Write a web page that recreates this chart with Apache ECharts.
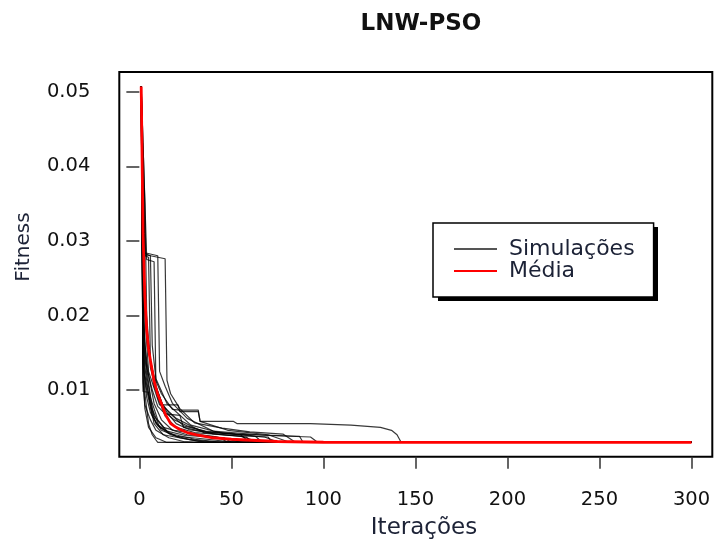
<!DOCTYPE html>
<html>
<head>
<meta charset="utf-8">
<script src="https://cdn.jsdelivr.net/npm/echarts@6/dist/echarts.min.js"></script>
<style>
html,body{margin:0;padding:0;background:#fff;}
#chart{width:715px;height:542px;}
</style>
</head>
<body>
<div id="chart"></div>
<script>
// ---- data (iteration, fitness) ----
const F = 0.00297;
const xTicks = [0, 50, 100, 150, 200, 250, 300];
const yTicks = [0.01, 0.02, 0.03, 0.04, 0.05];

const sim1  = [[1,0.0507],[2,0.0507],[3,0.0210],[5,0.0150],[8,0.0118],[12,0.0095],[18,0.0074],[22,0.0073],[32,0.0073],[33,0.0058],[51,0.0058],[53,0.0055],[93,0.0055],[115,0.0053],[131,0.0050],[137,0.0046],[140,0.0040],[142,0.0031],[143,F],[300,F]];
const sim2  = [[1,0.0507],[2,0.0281],[4,0.0281],[14,0.0276],[15,0.0113],[17,0.0095],[22,0.0075],[30,0.0056],[45,0.0049],[60,0.0044],[78,0.0041],[85,F],[300,F]];
const sim3  = [[1,0.0507],[3,0.0284],[10,0.0280],[11,0.0125],[14,0.0105],[18,0.0082],[26,0.0062],[40,0.0045],[70,0.0039],[93,0.0037],[97,F],[300,F]];
const sim4  = [[1,0.0507],[3,0.0283],[6,0.0280],[7,0.0160],[9,0.0115],[15,0.0082],[28,0.0053],[45,0.0042],[68,0.0037],[76,F],[300,F]];
const sim5  = [[1,0.0507],[4,0.0275],[8,0.0272],[9,0.0105],[13,0.0078],[20,0.0062],[35,0.0043],[55,0.0038],[66,F],[300,F]];
const sim6  = [[1,0.0507],[2,0.0507],[3,0.0200],[5,0.0125],[9,0.0095],[11,0.0080],[21,0.0080],[22,0.0071],[32,0.0071],[33,0.0058],[48,0.0046],[70,0.0040],[82,F],[300,F]];
const sim7  = [[1,0.0507],[2,0.0170],[4,0.0120],[6,0.0090],[10,0.0060],[16,0.0042],[30,0.0034],[45,F],[300,F]];
const sim8  = [[1,0.0507],[2,0.0130],[4,0.0100],[7,0.0065],[12,0.0046],[22,0.0036],[35,F],[300,F]];
const sim9  = [[1,0.0507],[2,0.0098],[5,0.0097],[6,0.0080],[8,0.0055],[13,0.0040],[28,0.0033],[38,F],[300,F]];
const sim10 = [[1,0.0507],[2,0.0220],[3,0.0150],[5,0.0110],[7,0.0075],[11,0.0050],[20,0.0038],[33,0.0035],[52,F],[300,F]];
const sim11 = [[1,0.0507],[2,0.0260],[4,0.0180],[6,0.0140],[9,0.0105],[14,0.0070],[19,0.0060],[26,0.0052],[40,0.0041],[58,0.0037],[62,F],[300,F]];
const sim12 = [[1,0.0507],[2,0.0190],[3,0.0120],[6,0.0080],[9,0.0055],[15,0.0045],[25,0.0039],[46,0.0036],[50,F],[300,F]];
const sim13 = [[1,0.0507],[2,0.0150],[3,0.0095],[5,0.0055],[7,0.0040],[9,0.0033],[10,F],[300,F]];
const sim14 = [[1,0.0507],[2,0.0240],[3,0.0160],[5,0.0120],[8,0.0082],[12,0.0060],[18,0.0046],[26,0.0040],[40,0.0038],[56,F],[300,F]];
const sim15 = [[1,0.0507],[2,0.0507],[3,0.0350],[4,0.0200],[6,0.0130],[10,0.0090],[14,0.0065],[20,0.0050],[30,0.0043],[50,0.0039],[70,0.0037],[72,F],[300,F]];
const sim16 = [[1,0.0507],[2,0.0140],[4,0.0090],[6,0.0070],[10,0.0052],[17,0.0040],[27,0.0034],[42,F],[300,F]];
const sim17 = [[1,0.0507],[2,0.0110],[3,0.0080],[6,0.0060],[9,0.0046],[16,0.0036],[24,0.0031],[30,F],[300,F]];
const sim18 = [[1,0.0507],[2,0.0200],[4,0.0130],[7,0.0100],[10,0.0078],[14,0.0068],[22,0.0066],[24,0.0050],[35,0.0044],[58,0.0040],[63,0.0038],[67,F],[300,F]];
const sim19 = [[1,0.0507],[3,0.0280],[5,0.0278],[6,0.0140],[8,0.0105],[11,0.0086],[16,0.0070],[24,0.0052],[36,0.0045],[52,0.0041],[87,0.0038],[89,F],[300,F]];
const sim20 = [[1,0.0507],[2,0.0165],[3,0.0130],[5,0.0095],[8,0.0065],[13,0.0050],[19,0.0046],[29,0.0042],[44,0.0036],[48,F],[300,F]];
const sim21 = [[1,0.0507],[2,0.0120],[3,0.0075],[5,0.0050],[9,0.0036],[15,F],[300,F]];
const sim22 = [[1,0.0507],[2,0.0300],[3,0.0210],[5,0.0160],[7,0.0125],[10,0.0090],[15,0.0070],[20,0.0055],[27,0.0047],[38,0.0043],[48,0.0042],[55,0.0040],[60,F],[300,F]];

const simulations = [sim1,sim2,sim3,sim4,sim5,sim6,sim7,sim8,sim9,sim10,sim11,sim12,sim13,sim14,sim15,sim16,sim17,sim18,sim19,sim20,sim21,sim22];

const mean = [[1,0.0507],[2,0.0310],[3,0.0225],[4,0.0180],[5,0.0155],[6,0.0140],[8,0.0112],[10,0.0094],[12,0.0082],[14,0.0068],[17,0.0055],[20,0.0050],[22,0.0047],[26,0.0043],[31,0.0040],[40,0.0036],[50,0.0034],[75,0.0031],[100,0.0030],[150,0.00297],[300,0.00297]];

const titleText = 'LNW-PSO';
const xName = 'Iterações';
const yName = 'Fitness';
const simName = 'Simulações';
const meanName = 'Média';

// ---- chart ----
const chart = echarts.init(document.getElementById('chart'), null, {renderer: 'canvas'});
const FONT = 'DejaVu Sans, Verdana, sans-serif';

const series = simulations.map(d => ({
  name: simName, type: 'line', data: d, symbol: 'none', silent: true,
  lineStyle: {color: 'rgba(0,0,0,0.78)', width: 1.2}, itemStyle: {color: '#555'}
}));
series.push({
  name: meanName, type: 'line', data: mean, symbol: 'none', silent: true, z: 5,
  lineStyle: {color: '#ff0000', width: 2.8}, itemStyle: {color: '#ff0000'}
});

chart.setOption({
  animation: false,
  backgroundColor: '#fff',
  title: {
    text: titleText, left: 416, top: 8, textAlign: 'center',
    textStyle: {fontFamily: FONT, fontWeight: 'bold', fontSize: 23, color: '#111'}
  },
  grid: {
    left: 119.3, right: 2.7, top: 72, bottom: 85.3,
    show: true, borderColor: '#000', borderWidth: 2, backgroundColor: 'transparent'
  },
  legend: {
    left: 433, top: 223, orient: 'vertical', itemGap: 0,
    itemWidth: 43, itemHeight: 2,
    padding: [15, 19, 15, 21],
    backgroundColor: '#fff', borderColor: '#000', borderWidth: 1.5,
    textStyle: {fontFamily: FONT, fontSize: 22, lineHeight: 22, color: '#1c2236', padding: [0, 0, 0, 7]},
    data: [
      {name: simName, icon: 'rect', itemStyle: {color: '#555'}},
      {name: meanName, icon: 'rect', itemStyle: {color: '#ff0000'}}
    ],
    selectedMode: false
  },
  xAxis: {
    type: 'value', min: -10.9, max: 311.3,
    axisLine: {show: false},
    splitLine: {show: false},
    axisTick: {show: true, customValues: xTicks, length: 12, lineStyle: {color: '#333', width: 1.5}},
    axisLabel: {customValues: xTicks, margin: 33, fontFamily: FONT, fontSize: 19.5, color: '#111'}
  },
  yAxis: {
    type: 'value', min: 0.00106, max: 0.05264,
    axisLine: {show: false},
    splitLine: {show: false},
    axisTick: {show: true, customValues: yTicks, length: 13, lineStyle: {color: '#333', width: 1.5}},
    axisLabel: {customValues: yTicks, margin: 29, fontFamily: FONT, fontSize: 19.5, color: '#111',
      formatter: v => v.toFixed(2)}
  },
  graphic: [
    {type: 'rect', z: 1, shape: {x: 438, y: 227, width: 220, height: 74}, style: {fill: '#000'}, silent: true},
    {type: 'text', x: 424, y: 528, style: {text: xName, font: '23px ' + FONT, fill: '#1c2236', align: 'center', verticalAlign: 'middle'}},
    {type: 'text', x: 24, y: 247, rotation: Math.PI / 2, style: {text: yName, font: '20px ' + FONT, fill: '#1c2236', align: 'center', verticalAlign: 'middle'}}
  ],
  series: series
});
</script>
</body>
</html>
